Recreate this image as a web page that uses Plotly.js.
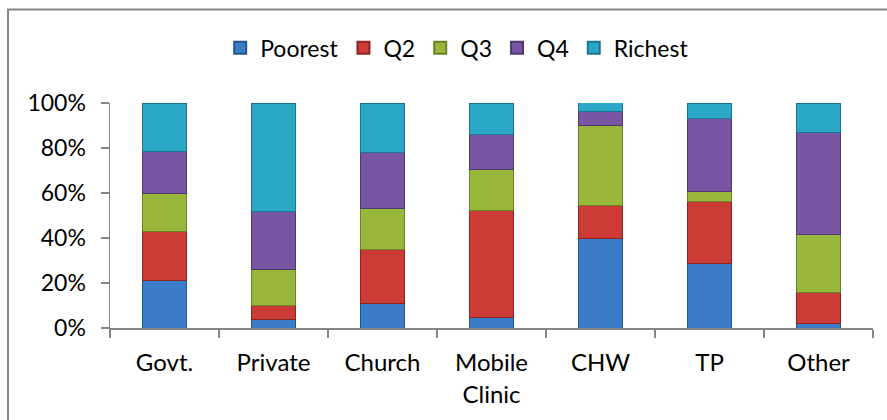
<!DOCTYPE html>
<html>
<head>
<meta charset="utf-8">
<script src="https://cdn.plot.ly/plotly-3.0.1.min.js"></script>
<style>
  html, body { margin: 0; padding: 0; background: #fff; }
  #chart { width: 887px; height: 420px; }
</style>
</head>
<body>
<div id="chart"></div>
<script>
// provider categories (x axis)
const providers = ['Govt.', 'Private', 'Church', 'Mobile<br>Clinic', 'CHW', 'TP', 'Other'];

// share of each wealth quintile per provider (fractions, stacked to 100%)
const poorest = [0.21, 0.04, 0.11, 0.046, 0.40, 0.287, 0.021];
const q2      = [0.22, 0.06, 0.24, 0.475, 0.145, 0.276, 0.138];
const q3      = [0.17, 0.16, 0.18, 0.183, 0.357, 0.043, 0.256];
const q4      = [0.186, 0.259, 0.25, 0.157, 0.062, 0.324, 0.453];
const richest = [0.214, 0.481, 0.22, 0.139, 0.037, 0.07, 0.132];

const yTicks = [0, 0.2, 0.4, 0.6, 0.8, 1];
const yTickText = ['0%', '20%', '40%', '60%', '80%', '100%'];

const series = [
  {name: 'Poorest', values: poorest, fill: '#3b7cc8', edge: '#24558f'},
  {name: 'Q2',      values: q2,      fill: '#cd3b37', edge: '#8e2422'},
  {name: 'Q3',      values: q3,      fill: '#99b83b', edge: '#6a8226'},
  {name: 'Q4',      values: q4,      fill: '#7856a3', edge: '#503870'},
  {name: 'Richest', values: richest, fill: '#2ba8c8', edge: '#1b7490'}
];

const FONT = 'Lato, "Open Sans", sans-serif';

const data = series.map(s => ({
  type: 'bar',
  name: s.name,
  x: providers,
  y: s.values,
  marker: {color: s.fill, line: {color: s.edge, width: 1}},
  hoverinfo: 'name+y'
}));

const layout = {
  width: 887,
  height: 420,
  barmode: 'stack',
  bargap: 0.59,
  margin: {l: 110, r: 14, t: 103, b: 92},
  paper_bgcolor: '#ffffff',
  plot_bgcolor: '#ffffff',
  font: {family: FONT, color: '#000000', size: 22},
  showlegend: true,
  legend: {
    orientation: 'h',
    x: 0.455, xanchor: 'center',
    y: 1.245, yanchor: 'middle',
    font: {family: FONT, size: 23, color: '#000'},
    traceorder: 'normal',
    itemwidth: 30,
    itemsizing: 'constant'
  },
  xaxis: {
    showline: true,
    linecolor: '#868686',
    linewidth: 1.5,
    ticks: 'outside',
    tickson: 'boundaries',
    ticklen: 8,
    tickcolor: '#868686',
    tickwidth: 1.5,
    ticklabelstandoff: 13,
    tickfont: {family: FONT, size: 24, color: '#000'},
    showgrid: false,
    zeroline: false,
    fixedrange: true
  },
  yaxis: {
    range: [0, 1],
    tickvals: yTicks,
    ticktext: yTickText,
    showline: true,
    linecolor: '#868686',
    linewidth: 1.5,
    ticks: 'outside',
    ticklen: 8,
    tickcolor: '#868686',
    tickwidth: 1.5,
    ticklabelstandoff: 10,
    tickfont: {family: FONT, size: 23, color: '#000'},
    showgrid: false,
    zeroline: false,
    fixedrange: true
  },
  // outer chart border (cropped at right and bottom in the original)
  shapes: [{
    type: 'rect',
    xref: 'paper', yref: 'paper',
    x0: -0.1337, x1: 1.04,
    y0: -0.46, y1: 1.4156,
    line: {color: '#868686', width: 2},
    fillcolor: 'rgba(0,0,0,0)',
    layer: 'below'
  }]
};

Plotly.newPlot('chart', data, layout, {displayModeBar: false, staticPlot: true});
</script>
</body>
</html>
